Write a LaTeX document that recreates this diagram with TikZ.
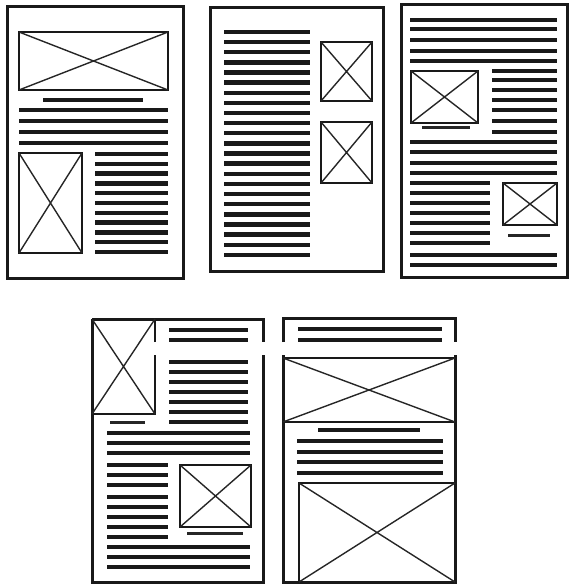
\documentclass[tikz,border=0pt]{standalone}
\usepackage{tikz}
\usetikzlibrary{calc}

% picture box: frame and the two diagonals
\newcommand{\photobox}[4]{%
  \draw[photo] (#1,#2) rectangle (#3,#4);
  \draw[cross] (#1,#2) -- (#3,#4) (#1,#4) -- (#3,#2);
}
% a column of text bars: x from, x to, list of y
\newcommand{\textlines}[3]{%
  \foreach \yy in {#3} \draw[txt] (#1,\yy) -- (#2,\yy);
}

\begin{document}
\begin{tikzpicture}[
    x=1pt, y=-1pt,
    % --- STYLES ---
    page/.style={line width=3pt, black!90},
    photo/.style={line width=2.4pt, black!90},
    cross/.style={line width=1.4pt, black!85},
    txt/.style={line width=4.4pt, black!90},
    caption/.style={line width=3pt, black!85}
]
\useasboundingbox (0,0) rectangle (569,585);

% ===== 1. TOP ROW =====
% page 1: wide picture, then text, small picture with column
\draw[page] (7,7) rectangle (183,278);
\photobox{19}{32}{168}{90}
\draw[txt] (43,100) -- (143,100);
\textlines{19}{168}{110,121,132,143}
\photobox{19}{153}{82}{253}
\foreach \i in {0,...,10}
  \draw[txt] (95,154+\i*9.8) -- (168,154+\i*9.8);

% page 2: text column, two pictures at the right
\draw[page] (210,8) rectangle (383,271);
\foreach \i in {0,...,22}
  \draw[txt] (224,32+\i*10.13) -- (310,32+\i*10.13);
\photobox{321}{42}{372}{101}
\photobox{321}{122}{372}{183}

% page 3: text wrapped round two pictures
\draw[page] (401,5) rectangle (567,277);
\textlines{410}{557}{20,29,40,51,61}
\photobox{411}{71}{478}{123}
\draw[caption] (422,128) -- (470,128);
\textlines{492}{557}{71,80,90,100,110,121,132}
\textlines{410}{557}{142,152,163,173}
\textlines{410}{490}{183,193,203,213,223,233,243}
\photobox{503}{183}{557}{225}
\draw[caption] (508,235) -- (550,235);
\textlines{410}{557}{255,265}

% ===== 2. BOTTOM ROW =====
% page 4: picture in the corner, picture lower right
\draw[page] (92,319) -- (263,319) -- (263,342);
\draw[page] (263,355) -- (263,582) -- (92,582) -- (92,319);
\draw[photo] (92,319) -- (92,414) -- (155,414) -- (155,355);
\draw[photo] (155,342) -- (155,319);
\draw[cross] (92,319) -- (155,414) (92,414) -- (155,319);
\textlines{169}{248}{330,340,362,372,382,392,402,412,422}
\draw[caption] (110,422) -- (145,422);
\textlines{107}{250}{433,443,453}
\textlines{107}{168}{465,475,485,497,507,517,527,537}
\photobox{180}{465}{251}{527}
\draw[caption] (187,533) -- (243,533);
\textlines{107}{250}{547,557,567}

% page 5: heading, full-width picture, text, big picture
\draw[page] (283,342) -- (283,318) -- (455,318) -- (455,342);
\draw[page] (283,355) -- (283,582) -- (455,582) -- (455,355);
\textlines{298}{442}{329,340}
\photobox{283}{358}{455}{422}
\draw[txt] (318,430) -- (420,430);
\textlines{297}{443}{441,452,462,473}
\photobox{299}{483}{455}{582}

\end{tikzpicture}
\end{document}
